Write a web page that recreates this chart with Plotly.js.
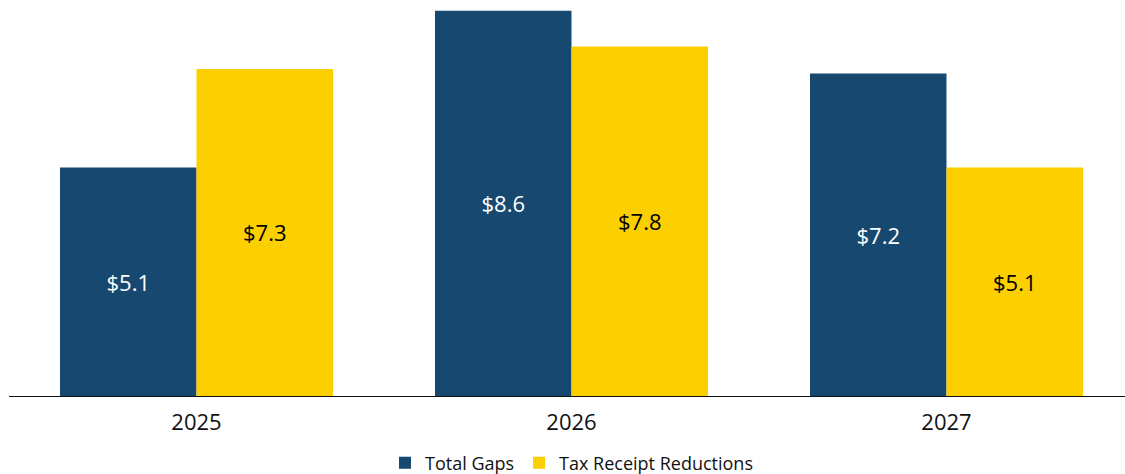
<!DOCTYPE html>
<html>
<head>
<meta charset="utf-8">
<script src="https://cdn.plot.ly/plotly-3.0.1.min.js"></script>
<style>html,body{margin:0;padding:0;background:#fff;}#chart{width:1125px;height:474px;}</style>
</head>
<body>
<div id="chart"></div>
<script>
const years = ["2025", "2026", "2027"];
const totalGaps = [5.1, 8.6, 7.2];
const taxReceiptReductions = [7.3, 7.8, 5.1];
const seriesNames = ["Total Gaps", "Tax Receipt Reductions"];
const fmt = v => "$" + v.toFixed(1);

const FONT = "Open Sans, Lato, sans-serif";
const traces = [
  {
    type: "bar", name: seriesNames[0], x: years, y: totalGaps,
    text: totalGaps.map(fmt), textposition: "inside", insidetextanchor: "middle",
    textangle: 0, textfont: {color: "#ffffff", size: 22, family: FONT},
    marker: {color: "#17486f"}, hoverinfo: "skip"
  },
  {
    type: "bar", name: seriesNames[1], x: years, y: taxReceiptReductions,
    text: taxReceiptReductions.map(fmt), textposition: "inside", insidetextanchor: "middle",
    textangle: 0, textfont: {color: "#000000", size: 22, family: FONT},
    marker: {color: "#fbcf00"}, hoverinfo: "skip"
  }
];

const layout = {
  width: 1125, height: 474,
  margin: {l: 9.4, r: 0, t: 0, b: 78, pad: 0, autoexpand: false},
  paper_bgcolor: "#ffffff", plot_bgcolor: "#ffffff",
  barmode: "group", bargap: 0.272, bargroupgap: 0,
  font: {family: FONT, color: "#111111"},
  showlegend: true,
  legend: {
    orientation: "h", x: 0.508, xanchor: "center", xref: "container",
    y: 0.023, yanchor: "middle", yref: "container",
    font: {size: 18, family: FONT, color: "#111111"}, tracegroupgap: 0
  },
  xaxis: {
    type: "category", range: [-0.5, 2.476],
    showline: true, linecolor: "#111111", linewidth: 1.2,
    ticks: "", showgrid: false, zeroline: false,
    tickfont: {size: 22, family: FONT, color: "#111111"},
    ticklabelstandoff: 6
  },
  yaxis: {
    range: [0, 8.84], visible: false, showgrid: false, zeroline: false, fixedrange: true
  }
};

Plotly.newPlot("chart", traces, layout, {displayModeBar: false, staticPlot: true});
</script>
</body>
</html>
